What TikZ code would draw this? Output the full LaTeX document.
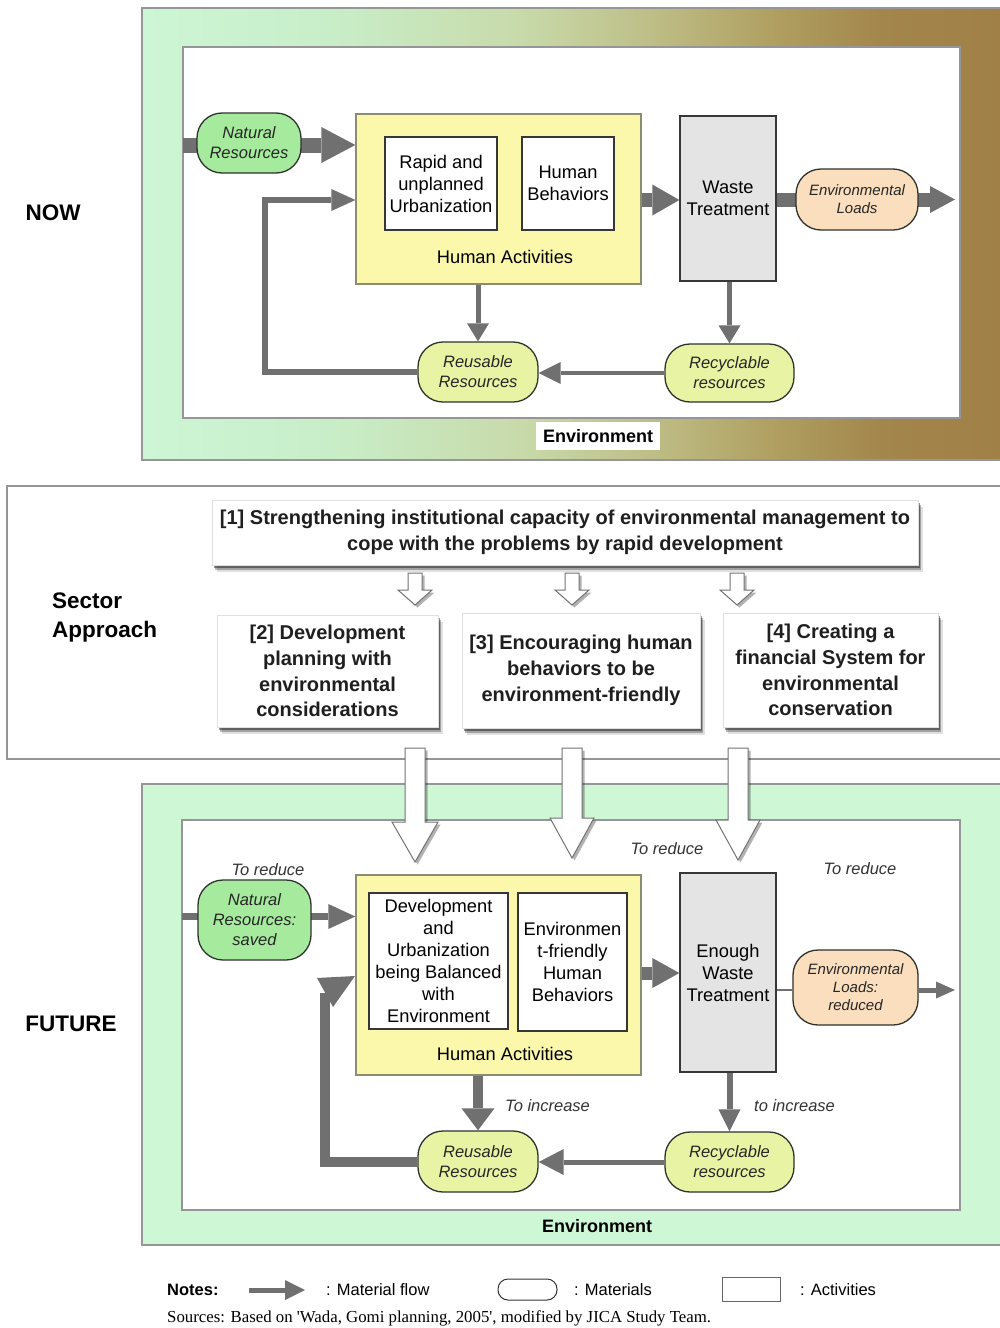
\documentclass[tikz,border=0pt]{standalone}
\usepackage{fontspec}
\setmainfont{Liberation Sans}
\newfontfamily\srcfont{Liberation Serif}
\usetikzlibrary{arrows.meta,shadows}
\newcommand\fsz[2]{\fontsize{#1}{#2}\selectfont}

\definecolor{arrowcol}{RGB}{112,112,112}
\definecolor{frameline}{RGB}{150,150,150}
\definecolor{boxline}{RGB}{55,55,55}
\definecolor{haline}{RGB}{140,140,110}
\definecolor{pillline}{RGB}{45,50,45}
\definecolor{nrgreen}{RGB}{166,234,158}
\definecolor{resyellow}{RGB}{232,244,164}
\definecolor{elpeach}{RGB}{250,222,190}
\definecolor{hayellow}{RGB}{251,248,172}
\definecolor{wtgray}{RGB}{228,228,228}
\definecolor{envgreen}{RGB}{206,247,214}
\definecolor{gA}{RGB}{205,246,214}
\definecolor{gB}{RGB}{200,238,200}
\definecolor{gC}{RGB}{200,218,170}
\definecolor{gD}{RGB}{190,190,135}
\definecolor{gE}{RGB}{175,158,95}
\definecolor{gF}{RGB}{163,134,76}
\definecolor{gG}{RGB}{160,128,70}

% green-to-brown environment band
\pgfdeclarehorizontalshading{envgrad}{100bp}{color(0bp)=(gA); color(25bp)=(gA); color(36bp)=(gB); color(47bp)=(gC); color(54.5bp)=(gD); color(62bp)=(gE); color(68bp)=(gF); color(75bp)=(gG); color(100bp)=(gG)}

\pgfdeclarelayer{bg}
\pgfdeclarelayer{flow}
\pgfsetlayers{bg,flow,main}

\tikzset{
  txt/.style={font=\fsz{18.3}{22}, align=center, inner sep=0pt},
  actbox/.style={txt, draw=boxline, line width=1.3pt, fill=white},
  habox/.style={draw=haline, line width=1.3pt, fill=hayellow, inner sep=0pt},
  wtbox/.style={txt, draw=boxline, line width=1.3pt, fill=wtgray},
  matpill/.style={draw=pillline, line width=1.3pt, rounded corners=25pt, align=center,
    inner sep=0pt, font=\fsz{16.5}{20}\itshape, text=black!85},
  elfont/.style={font=\fsz{15}{18}\itshape},
  note/.style={font=\fsz{16.5}{20}\itshape, inner sep=0pt, text=black!80},
  envlabel/.style={font=\fsz{18}{22}\bfseries, inner sep=0pt},
  flow/.style={draw=arrowcol, line join=miter},
  sectbox/.style={fill=white, draw=black!12, line width=0.6pt, align=center,
    font=\fsz{20}{25.7}\bfseries, inner sep=0pt, text=black!88,
    general shadow={shadow xshift=1.5pt, shadow yshift=-2.5pt, fill=black, opacity=.40},
    general shadow={shadow xshift=3pt, shadow yshift=-5pt, fill=black, opacity=.28},
    general shadow={shadow xshift=4.5pt, shadow yshift=-7pt, fill=black, opacity=.12}},
  hollowarr/.style={fill=white, draw=black!55, line width=1pt, line join=miter,
    general shadow={shadow xshift=2.5pt, shadow yshift=-2.5pt, fill=black, opacity=.3}},
  sidelabel/.style={font=\fsz{22.5}{29}\bfseries, inner sep=0pt, align=left},
  legend/.style={font=\fsz{16.5}{20}, inner sep=0pt, anchor=west}
}

% hollow block arrow pointing down: x, shaft top, head base, tip, shaft half, head half
\newcommand\hollowdown[6]{%
  \draw[hollowarr] ({#1-#5},#2) -- ({#1+#5},#2) -- ({#1+#5},#3) -- ({#1+#6},#3)
    -- (#1,#4) -- ({#1-#6},#3) -- ({#1-#5},#3) -- cycle;}

\begin{document}
\begin{tikzpicture}[x=1pt,y=-1pt]
\useasboundingbox (0,0) rectangle (1000,1328);

% ---------------- frames ----------------
\begin{pgfonlayer}{bg}
  \fill[white] (0,0) rectangle (1000,1328);
  \shadedraw[shading=envgrad, draw=frameline, line width=1.6pt] (142,8) rectangle (1003,460);
  \draw[fill=white, draw=frameline, line width=1.6pt] (183,47) rectangle (960,418);
  \draw[fill=white, draw=frameline, line width=1.2pt] (7,486) rectangle (1003,759);
  \draw[fill=envgreen, draw=frameline, line width=1.6pt] (142,784) rectangle (1003,1245);
  \draw[fill=white, draw=frameline, line width=1.6pt] (182,820) rectangle (960,1210);
\end{pgfonlayer}

% ---------------- NOW ----------------
\node[sidelabel] (now) at (53,213) {NOW};
\node[envlabel, fill=white, minimum width=124pt, minimum height=28pt] (envA) at (598,436) {Environment};

\node[habox, minimum width=285pt, minimum height=170pt] (haA) at (498.5,199) {};
\node[actbox, minimum width=112pt, minimum height=93pt] (urbA) at (441,183.5) {Rapid and\\unplanned\\Urbanization};
\node[actbox, minimum width=92pt, minimum height=93pt] (behA) at (568,183.5) {Human\\Behaviors};
\node[txt] (halA) at (505,257) {Human Activities};
\node[wtbox, minimum width=96pt, minimum height=165pt] (wtA) at (728,198.5) {Waste\\Treatment};
\node[matpill, fill=nrgreen, minimum width=104pt, minimum height=60pt] (nrA) at (249,143) {Natural\\Resources};
\node[matpill, elfont, fill=elpeach, minimum width=122pt, minimum height=61pt] (elA) at (857,199.5) {Environmental\\Loads};
\node[matpill, fill=resyellow, minimum width=120pt, minimum height=60pt] (reuseA) at (478,372) {Reusable\\Resources};
\node[matpill, fill=resyellow, minimum width=129pt, minimum height=58pt] (recycA) at (729.5,373) {Recyclable\\resources};

\coordinate (inA) at (183,145);
\coordinate (outA) at (955,199.5);
\coordinate (fbA1) at (265,372);
\coordinate (fbA2) at (265,200);

\begin{pgfonlayer}{flow}
  \draw[flow, line width=15pt, -{Triangle[width=36pt,length=34pt,line width=0pt]}] (inA) -- (haA.west |- inA);
  \draw[flow, line width=14pt, -{Triangle[width=31pt,length=27pt,line width=0pt]}] (haA.east |- 0,200) -- (wtA.west |- 0,200);
  \draw[flow, line width=14pt, -{Triangle[width=27pt,length=25pt,line width=0pt]}] (wtA.east |- outA) -- (outA);
  \draw[flow, line width=5pt, -{Triangle[width=22pt,length=18pt,line width=0pt]}] (reuseA.north |- haA.south) -- (reuseA.north);
  \draw[flow, line width=5pt, -{Triangle[width=22pt,length=18pt,line width=0pt]}] (recycA.north |- wtA.south) -- (recycA.north);
  \draw[flow, line width=4pt, -{Triangle[width=22pt,length=22pt,line width=0pt]}] (recycA.west) -- (reuseA.east |- recycA.west);
  \draw[flow, line width=6pt, -{Triangle[width=22pt,length=24pt,line width=0pt]}] (reuseA.west) -- (fbA1) -- (fbA2) -- (haA.west |- fbA2);
\end{pgfonlayer}

% ---------------- Sector approach ----------------
\node[sidelabel] (sector) at (52,617) [anchor=west] {Sector\\Approach};
\node[sectbox, minimum width=706pt, minimum height=65pt] (s1) at (565,532.5)
  {[1] Strengthening institutional capacity of environmental management to\\cope with the problems by rapid development};
\node[sectbox, minimum width=221pt, minimum height=112pt] (s2) at (327.5,671)
  {[2] Development\\planning with\\environmental\\considerations};
\node[sectbox, minimum width=238pt, minimum height=115pt] (s3) at (581,670.5)
  {[3] Encouraging human\\behaviors to be\\environment-friendly};
\node[sectbox, minimum width=215pt, minimum height=114pt] (s4) at (830.5,670)
  {[4] Creating a\\financial System for\\environmental\\conservation};

\hollowdown{415}{573}{590}{605}{7}{17}
\hollowdown{572}{573}{590}{605}{7}{17}
\hollowdown{737}{573}{590}{605}{7}{17}

% ---------------- FUTURE ----------------
\node[sidelabel] (future) at (71,1024) {FUTURE};
\node[envlabel] (envB) at (597,1226) {Environment};

\node[habox, minimum width=285pt, minimum height=200pt] (haB) at (498.5,975) {};
\node[actbox, minimum width=139pt, minimum height=136pt] (urbB) at (438.5,961)
  {Development\\and\\Urbanization\\being Balanced\\with\\Environment};
\node[actbox, minimum width=109pt, minimum height=138pt] (behB) at (572.5,962)
  {Environmen\\t-friendly\\Human\\Behaviors};
\node[txt] (halB) at (505,1054) {Human Activities};
\node[wtbox, minimum width=96pt, minimum height=199pt] (wtB) at (728,972.5) {Enough\\Waste\\Treatment};
\node[matpill, fill=nrgreen, minimum width=113pt, minimum height=80pt] (nrB) at (254.5,920) {Natural\\Resources:\\saved};
\node[matpill, elfont, fill=elpeach, minimum width=125pt, minimum height=75pt] (elB) at (855.5,987.5) {Environmental\\Loads:\\reduced};
\node[matpill, fill=resyellow, minimum width=120pt, minimum height=61pt] (reuseB) at (478,1161.5) {Reusable\\Resources};
\node[matpill, fill=resyellow, minimum width=129pt, minimum height=60pt] (recycB) at (729.5,1162) {Recyclable\\resources};

\node[note] (redA) at (268,870) {To reduce};
\node[note] (redB) at (667,849) {To reduce};
\node[note] (redC) at (860,869) {To reduce};
\node[note, anchor=west] (incA) at (505,1106) {To increase};
\node[note, anchor=west] (incB) at (754,1106) {to increase};

\coordinate (inB) at (182,916.5);
\coordinate (outB) at (955,990);
\coordinate (fbB1) at (325,1161.5);
\coordinate (fbB2) at (325,993);

\begin{pgfonlayer}{flow}
  \draw[flow, line width=7pt, -{Triangle[width=25pt,length=27pt,line width=0pt]}] (inB) -- (haB.west |- inB);
  \draw[flow, line width=13pt, -{Triangle[width=30pt,length=27pt,line width=0pt]}] (haB.east |- 0,973) -- (wtB.west |- 0,973);
  \draw[flow, line width=1.5pt] (wtB.east |- outB) -- (elB.west |- outB);
  \draw[flow, line width=5pt, -{Triangle[width=17pt,length=19pt,line width=0pt]}] (elB.east |- outB) -- (outB);
  \draw[flow, line width=10pt, -{Triangle[width=33pt,length=22pt,line width=0pt]}] (reuseB.north |- haB.south) -- (reuseB.north);
  \draw[flow, line width=6pt, -{Triangle[width=22pt,length=22pt,line width=0pt]}] (recycB.north |- wtB.south) -- (recycB.north);
  \draw[flow, line width=5pt, -{Triangle[width=26pt,length=25pt,line width=0pt]}] (recycB.west) -- (reuseB.east |- recycB.west);
  \draw[flow, line width=10pt] (reuseB.west) -- (fbB1) -- (fbB2);
  \fill[arrowcol] (317,978) -- (355,976) -- (333,1007) -- cycle;
\end{pgfonlayer}

% strategies feeding the future system
\hollowdown{415}{748}{822}{862}{10}{23}
\hollowdown{572}{748}{818}{858}{10}{22}
\hollowdown{738}{748}{820}{860}{10}{22}

% ---------------- legend ----------------
\node[legend, font=\fsz{16.5}{20}\bfseries] (notes) at (167,1290) {Notes:};
\coordinate (lgA) at (249,1290);
\coordinate (lgB) at (305,1290);
\draw[flow, line width=5pt, -{Triangle[width=20pt,length=20pt,line width=0pt]}] (lgA) -- (lgB);
\node[legend] (lgflow) at (326,1290) {: Material flow};
\node[draw=black!80, line width=1pt, fill=white, rounded corners=10pt, minimum width=59pt, minimum height=21pt] (lgpill) at (527.5,1289.5) {};
\node[legend] (lgmat) at (574,1290) {: Materials};
\node[draw=black!60, line width=1pt, fill=white, minimum width=58pt, minimum height=24pt] (lgrect) at (751,1289) {};
\node[legend] (lgact) at (800,1290) {: Activities};
\node[legend, font=\fsz{16.8}{19}\srcfont] (src) at (167,1318) {Sources: Based on 'Wada, Gomi planning, 2005', modified by JICA Study Team.};

\end{tikzpicture}
\end{document}
